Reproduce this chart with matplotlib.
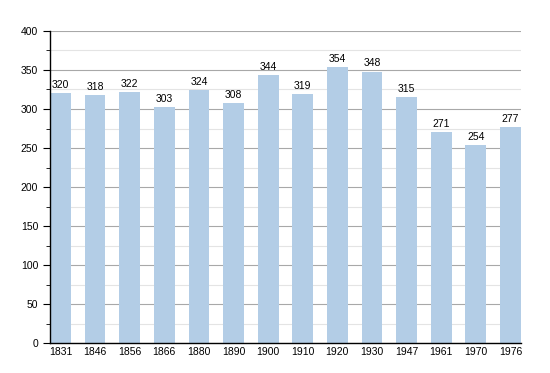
import matplotlib.pyplot as plt
from matplotlib.ticker import MultipleLocator

years = ['1831', '1846', '1856', '1866', '1880', '1890', '1900',
         '1910', '1920', '1930', '1947', '1961', '1970', '1976']
population = [320, 318, 322, 303, 324, 308, 344, 319, 354, 348, 315, 271, 254, 277]

plt.rcParams['font.family'] = ['Liberation Sans', 'DejaVu Sans']

fig = plt.figure(figsize=(5.5, 3.73), dpi=100)
ax = fig.add_axes([0.091, 0.080, 0.856, 0.837])

x = range(len(years))
ax.bar(x, population, width=0.6, color='#b3cde6', zorder=2)
for xi, v in zip(x, population):
    ax.text(xi, v + 4, str(v), ha='center', va='bottom', fontsize=7.5, zorder=3)

ax.set_xlim(-0.3, len(years) - 0.7)
ax.set_ylim(0, 400)
ax.set_xticks(list(x))
ax.set_xticklabels(years)
ax.yaxis.set_major_locator(MultipleLocator(50))
ax.yaxis.set_minor_locator(MultipleLocator(25))
ax.grid(axis='y', which='major', color='#a8a8a8', linewidth=0.8, zorder=0)
ax.grid(axis='y', which='minor', color='#e4e4e4', linewidth=0.8, zorder=0)

for s in ['top', 'right']:
    ax.spines[s].set_visible(False)
ax.spines['left'].set_linewidth(1.0)
ax.spines['bottom'].set_linewidth(1.0)
ax.tick_params(axis='x', length=0, labelsize=7.5, pad=3)
ax.tick_params(axis='y', which='major', length=5, labelsize=7.5)
ax.tick_params(axis='y', which='minor', length=3)

fig.savefig('out.png', dpi=100)
